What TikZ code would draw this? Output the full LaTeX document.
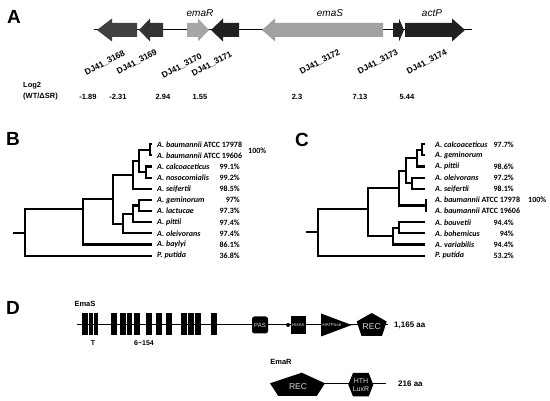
\documentclass[tikz,border=0pt]{standalone}
\usepackage{fontspec}
\setmainfont{Liberation Sans}
\newfontfamily\calib{Carlito}
\newcommand\fsz[1]{\fontsize{#1}{#1}\selectfont}
% gene arrow: tail x, head base x, tip x
\def\genearrow[#1](#2:#3:#4){\fill[#1] (#2,23) -- (#3,23) -- (#3,18.5) -- (#4,30) -- (#3,41.5) -- (#3,37) -- (#2,37) -- cycle;}

\begin{document}
\begin{tikzpicture}[x=1pt, y=-1pt,
	panel/.style={inner sep=0pt, font=\bfseries\fsz{19}},
	gid/.style={rotate=28, inner sep=0pt, font=\bfseries\fsz{8.5}},
	gname/.style={inner sep=0pt, font=\itshape\fsz{10}},
	lg/.style={inner sep=0pt, font=\bfseries\fsz{7.5}},
	sp/.style={anchor=west, inner sep=0pt, font=\calib\bfseries\fsz{8}},
	pc/.style={anchor=east, inner sep=0pt, font=\calib\bfseries\fsz{8}},
	tree/.style={line width=2.2},
	dom/.style={inner sep=0pt, text=white!85!black, font=\fsz{#1}},
	prot/.style={inner sep=0pt, font=\bfseries\fsz{7.5}}]
		%%%%% START %%%%%
		\useasboundingbox (0,0) rectangle (550,401);
		
		%%%%% A %%%%%
		\node[panel] (pA) at (14,17) {A};
		\draw[line width=1] (94,30) -- (472,30);
		\genearrow[color=black!75](137:112:97)
		\genearrow[color=black!80](163:150:139)
		\genearrow[color=black!35](187:198:209)
		\genearrow[color=black!87](239:223:211)
		\genearrow[color=black!37](383:275:262)
		\genearrow[color=black!87](393:399:404)
		\genearrow[color=black!87](405:452:465)
		
		\node[gname] (nR) at (200,13) {emaR};
		\node[gname] (nS) at (330,13) {emaS};
		\node[gname] (nP) at (432,13) {actP};
		
		\node[gid] (g68) at (105,63) {DJ41\_3168};
		\node[gid] (g69) at (137,62) {DJ41\_3169};
		\node[gid] (g70) at (182,66) {DJ41\_3170};
		\node[gid] (g71) at (212,64) {DJ41\_3171};
		\node[gid] (g72) at (320,62) {DJ41\_3172};
		\node[gid] (g73) at (378,62) {DJ41\_3173};
		\node[gid] (g74) at (427,62) {DJ41\_3174};
		
		\node[lg, anchor=west] (lg1) at (23,86) {Log2};
		\node[lg, anchor=west] (lg2) at (23,97) {(WT/ΔSR)};
		\node[lg] (v68) at (88,97) {-1.89};
		\node[lg] (v69) at (118,97) {-2.31};
		\node[lg] (v70) at (163,97) {2.94};
		\node[lg] (v71) at (200,97) {1.55};
		\node[lg] (v72) at (297,97) {2.3};
		\node[lg] (v73) at (360,97) {7.13};
		\node[lg] (v74) at (407,97) {5.44};
		
		%%%%% B %%%%%
		\node[panel] (pB) at (13,139) {B};
		\draw[tree] (152,144.3) -- (150,144.3) -- (150,155.4) -- (152,155.4);
		\draw[tree] (152,166.6) -- (146,166.6) -- (146,177.7) -- (152,177.7);
		\draw[tree] (150,149.9) -- (139.3,149.9) -- (139.3,172.2) -- (146,172.2);
		\draw[tree] (139.3,161) -- (133.3,161) -- (133.3,188.9) -- (152,188.9);
		\draw[tree] (152,200) -- (139.3,200) -- (139.3,211.2) -- (152,211.2);
		\draw[tree] (139.3,205.6) -- (133.3,205.6) -- (133.3,222.3) -- (152,222.3);
		\draw[tree] (133.3,214) -- (123.3,214) -- (123.3,233.4) -- (152,233.4);
		\draw[tree] (133.3,175) -- (113.3,175) -- (113.3,223.7) -- (123.3,223.7);
		\draw[tree] (113.3,199) -- (83.3,199) -- (83.3,244.6) -- (152,244.6);
		\draw[tree] (83.3,209) -- (25,209) -- (25,255.7) -- (152,255.7);
		\draw[tree] (13.3,233) -- (25,233);
		
		\node[sp] (b1) at (157,144.3) {\textit{A. baumannii} ATCC 17978};
		\node[sp] (b2) at (157,155.4) {\textit{A. baumannii} ATCC 19606};
		\node[sp] (b3) at (157,166.6) {\textit{A. calcoaceticus}};
		\node[sp] (b4) at (157,177.7) {\textit{A. nosocomialis}};
		\node[sp] (b5) at (157,188.9) {\textit{A. seifertii}};
		\node[sp] (b6) at (157,200) {\textit{A. geminorum}};
		\node[sp] (b7) at (157,211.2) {\textit{A. lactucae}};
		\node[sp] (b8) at (157,222.3) {\textit{A. pittii}};
		\node[sp] (b9) at (157,233.4) {\textit{A. oleivorans}};
		\node[sp] (b10) at (157,244.6) {\textit{A. baylyi}};
		\node[sp] (b11) at (157,255.7) {\textit{P. putida}};
		
		\node[pc, anchor=west] (pb1) at (248,151) {100\%};
		\node[pc] (pb3) at (240,166.6) {99.1\%};
		\node[pc] (pb4) at (240,177.7) {99.2\%};
		\node[pc] (pb5) at (240,188.9) {98.5\%};
		\node[pc] (pb6) at (240,200) {97\%};
		\node[pc] (pb7) at (240,211.2) {97.3\%};
		\node[pc] (pb8) at (240,222.3) {97.4\%};
		\node[pc] (pb9) at (240,233.4) {97.4\%};
		\node[pc] (pb10) at (240,244.6) {86.1\%};
		\node[pc] (pb11) at (240,255.7) {36.8\%};
		
		%%%%% C %%%%%
		\node[panel] (pC) at (302,140) {C};
		\draw[tree] (425,144.3) -- (421.7,144.3) -- (421.7,155.4) -- (425,155.4);
		\draw[tree] (421.7,149.9) -- (416.7,149.9) -- (416.7,166.6) -- (425,166.6);
		\draw[tree] (425,177.7) -- (411.7,177.7) -- (411.7,188.9) -- (425,188.9);
		\draw[tree] (416.7,158.2) -- (406,158.2) -- (406,183.3) -- (411.7,183.3);
		\draw[tree] (426,199) -- (426,212.2);
		\draw[tree] (406,170.8) -- (399.3,170.8) -- (399.3,205.6) -- (426,205.6);
		\draw[tree] (425,222.3) -- (399.3,222.3) -- (399.3,233.4) -- (425,233.4);
		\draw[tree] (399.3,227.9) -- (392.7,227.9) -- (392.7,244.6) -- (425,244.6);
		\draw[tree] (399.3,188.2) -- (368.3,188.2) -- (368.3,236.2) -- (392.7,236.2);
		\draw[tree] (368.3,209) -- (318.3,209) -- (318.3,255.7) -- (425,255.7);
		\draw[tree] (306,232) -- (318.3,232);
		
		\node[sp] (c1) at (435,144.3) {\textit{A. calcoaceticus}};
		\node[sp] (c2) at (435,155.4) {\textit{A. geminorum}};
		\node[sp] (c3) at (435,166.6) {\textit{A. pittii}};
		\node[sp] (c4) at (435,177.7) {\textit{A. oleivorans}};
		\node[sp] (c5) at (435,188.9) {\textit{A. seifertii}};
		\node[sp] (c6) at (435,200) {\textit{A. baumannii} ATCC 17978};
		\node[sp] (c7) at (435,211.2) {\textit{A. baumannii} ATCC 19606};
		\node[sp] (c8) at (435,222.3) {\textit{A. bouvetii}};
		\node[sp] (c9) at (435,233.4) {\textit{A. bohemicus}};
		\node[sp] (c10) at (435,244.6) {\textit{A. variabilis}};
		\node[sp] (c11) at (435,255.7) {\textit{P. putida}};
		
		\node[pc] (pc1) at (514,144.3) {97.7\%};
		\node[pc] (pc3) at (514,166.6) {98.6\%};
		\node[pc] (pc4) at (514,177.7) {97.2\%};
		\node[pc] (pc5) at (514,188.9) {98.1\%};
		\node[pc, anchor=west] (pc6) at (528,200) {100\%};
		\node[pc] (pc8) at (514,222.3) {94.4\%};
		\node[pc] (pc9) at (514,233.4) {94\%};
		\node[pc] (pc10) at (514,244.6) {94.4\%};
		\node[pc] (pc11) at (514,255.7) {53.2\%};
		
		%%%%% D %%%%%
		\node[panel] (pD) at (13,308) {D};
		\node[prot] (emas) at (85,304) {EmaS};
		\draw[line width=1] (77,325) -- (388,325);
		\foreach \a/\b in {81.7/87.8, 88.8/93.2, 94.2/98, 110.7/117, 120.3/126.3, 127.3/132.3, 134/140.3, 146.3/152.3, 156.3/162.3, 166.3/172.3, 181.3/187.3, 188.3/193.5, 194.5/200.5, 211.3/216.5}
			\fill (\a,313.5) rectangle (\b,335);
		\node[prot, font=\bfseries\fsz{7}] (tm1) at (93,343) {T};
		\node[prot, font=\bfseries\fsz{7}] (tm2) at (144,343) {6\textasciitilde154};
		
		\fill[rounded corners=2.5] (252,316.5) rectangle (268,333.5);
		\node[dom=6] (pas) at (260,325) {PAS};
		\fill (288,325) circle (2);
		\fill (291.2,316) rectangle (305.5,334);
		\node[dom=4.4] (hiska) at (298.3,325) {HisKA};
		\fill (321,313.5) -- (351.7,325) -- (321,336.5) -- cycle;
		\node[dom=4.4] (hatp) at (332,325) {HATPase};
		\fill (371.7,313) -- (386.7,321.5) -- (382,336) -- (361.5,336) -- (356.7,321.5) -- cycle;
		\node[dom=8.5] (rec1) at (371.7,327) {REC};
		\node[prot, anchor=west, font=\bfseries\fsz{8}] (len1) at (394,325) {1,165 aa};
		
		\node[prot] (emar) at (281,362) {EmaR};
		\draw[line width=1] (272,383.3) -- (386,383.3);
		\fill (301.7,372.7) -- (325,383.3) -- (316.7,396) -- (278.3,396) -- (270,383.3) -- cycle;
		\node[dom=8.5] (rec2) at (298,386.5) {REC};
		\fill (348.3,384.7) -- (353,373) -- (368.7,373) -- (373.3,384.7) -- (368.7,396.5) -- (353,396.5) -- cycle;
		\node[dom=7, align=center] (hth) at (361,384.7) {HTH\\[1pt]LuxR};
		\node[prot, anchor=west, font=\bfseries\fsz{8}] (len2) at (398,383.3) {216 aa};
		
		%%%%% END %%%%%
	\end{tikzpicture}
\end{document}
